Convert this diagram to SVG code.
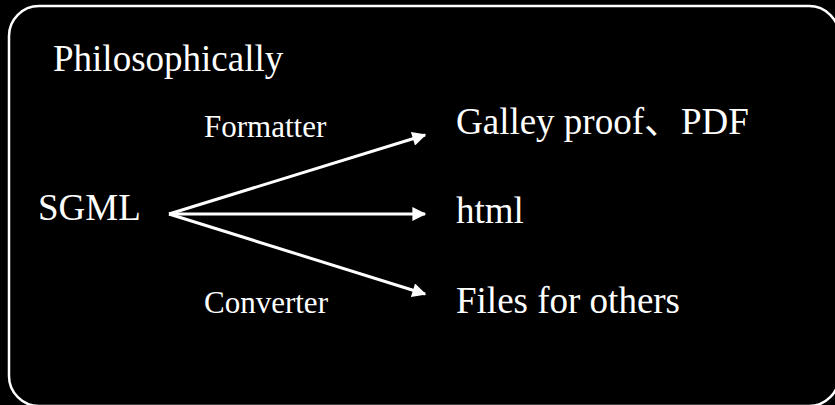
<svg xmlns="http://www.w3.org/2000/svg" width="835" height="405" viewBox="0 0 835 405">
  <style>
    .big { font-family: "Liberation Serif", "Noto Sans CJK JP", serif; font-size: 37px; fill: #fff; }
    .small { font-family: "Liberation Serif", serif; font-size: 31px; fill: #fff; }
    .edge { stroke: #fff; stroke-width: 3; fill: none; marker-end: url(#arrow); }
  </style>
  <defs>
    <marker id="arrow" viewBox="0 0 10 10" refX="9" refY="5" markerUnits="userSpaceOnUse" markerWidth="17" markerHeight="14" orient="auto">
      <path d="M0,0 L10,5 L0,10 Z" fill="#fff"/>
    </marker>
  </defs>
  <rect width="835" height="405" fill="#000"/>
  <rect x="9" y="6" width="830" height="400" rx="30" ry="30" fill="none" stroke="#fff" stroke-width="2.5"/>

  <text class="big" x="53" y="71">Philosophically</text>

  <g id="connectors">
    <line class="edge" x1="169" y1="214" x2="425" y2="135"/>
    <line class="edge" x1="169" y1="214" x2="425" y2="214"/>
    <line class="edge" x1="169" y1="214" x2="425" y2="294"/>
    <text class="small" x="204" y="137">Formatter</text>
    <text class="small" x="204" y="313">Converter</text>
  </g>

  <g id="sgml">
    <text class="big" x="38" y="220">SGML</text>
  </g>
  <g id="galley">
    <text class="big" x="456" y="134">Galley proof、PDF</text>
  </g>
  <g id="html">
    <text class="big" x="456" y="223">html</text>
  </g>
  <g id="others">
    <text class="big" x="456" y="313">Files for others</text>
  </g>
</svg>
